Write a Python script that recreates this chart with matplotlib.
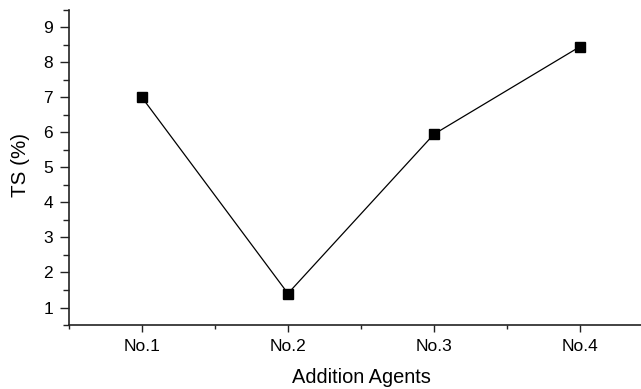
import numpy as np
import matplotlib.pyplot as plt
from matplotlib.ticker import MultipleLocator, FixedLocator

plt.rcParams['font.family'] = ['Liberation Sans', 'DejaVu Sans']

agents = ['No.1', 'No.2', 'No.3', 'No.4']
ts_values = [7.0, 1.4, 5.95, 8.45]

fig = plt.figure(figsize=(6.41, 3.89), dpi=100)
ax = fig.add_axes([0.1076, 0.1645, 0.911, 0.810])

x = np.arange(1, len(agents) + 1)
ax.plot(x, ts_values, color='black', linewidth=0.9,
        marker='s', markersize=6.5, markerfacecolor='black', markeredgecolor='black')

ax.set_xlim(0.5, 4.5)
ax.set_ylim(0.5, 9.5)
ax.set_xticks(x)
ax.set_xticklabels(agents)
ax.xaxis.set_minor_locator(FixedLocator([0.5, 1.5, 2.5, 3.5, 4.5]))
ax.yaxis.set_major_locator(MultipleLocator(1))
ax.yaxis.set_minor_locator(MultipleLocator(0.5))

for side in ['top', 'right']:
    ax.spines[side].set_visible(False)
for side in ['left', 'bottom']:
    ax.spines[side].set_linewidth(1.2)
    ax.spines[side].set_color('#222222')

ax.tick_params(which='major', direction='out', width=1, colors='#222222',
               labelsize=12.5, labelcolor='black')
ax.tick_params(axis='y', which='major', length=6.5, pad=5)
ax.tick_params(axis='y', which='minor', length=4.3, width=1, colors='#222222')
ax.tick_params(axis='x', which='major', length=5, pad=5)
ax.tick_params(axis='x', which='minor', length=3, width=1, colors='#222222')

ax.set_xlabel('Addition Agents', fontsize=14.4)
ax.set_ylabel('TS (%)', fontsize=14.8)
ax.xaxis.set_label_coords(0.5, -0.138)
ax.yaxis.set_label_coords(-0.066, 0.508)

fig.savefig('out.png', dpi=100)
